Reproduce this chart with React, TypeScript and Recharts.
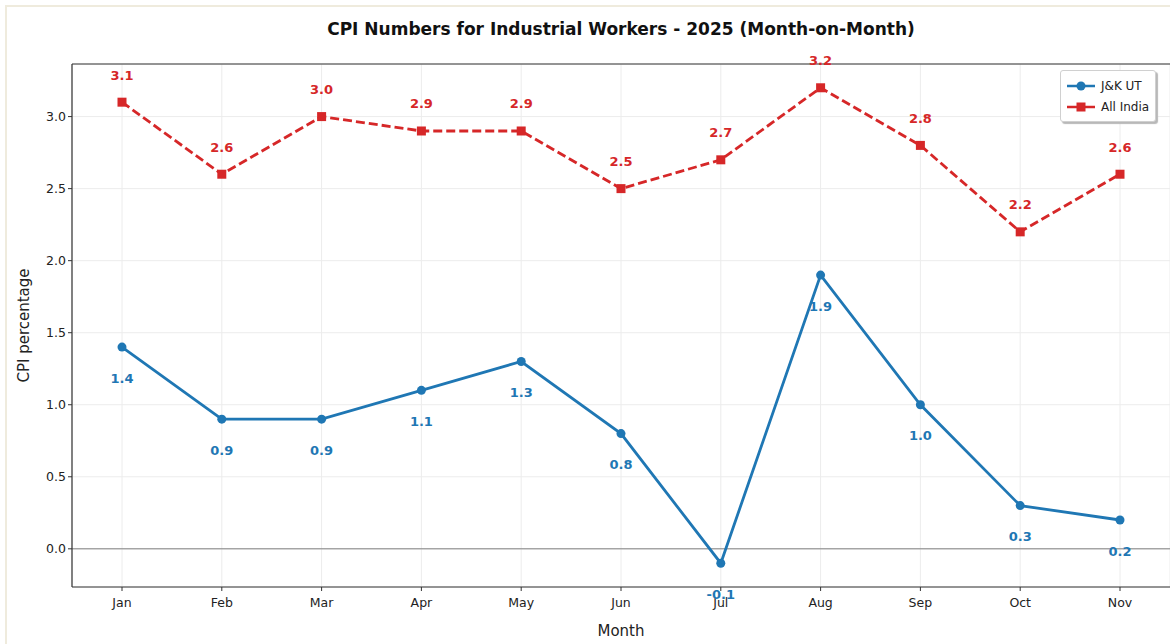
import React from 'react'
import {
  CartesianGrid,
  LabelList,
  Line,
  LineChart,
  ReferenceLine,
  XAxis,
  YAxis,
} from 'recharts'

const months = ['Jan', 'Feb', 'Mar', 'Apr', 'May', 'Jun', 'Jul', 'Aug', 'Sep', 'Oct', 'Nov']
const jkUt = [1.4, 0.9, 0.9, 1.1, 1.3, 0.8, -0.1, 1.9, 1.0, 0.3, 0.2]
const allIndia = [3.1, 2.6, 3.0, 2.9, 2.9, 2.5, 2.7, 3.2, 2.8, 2.2, 2.6]
const yTicks = [0, 0.5, 1.0, 1.5, 2.0, 2.5, 3.0]

const BLUE = '#1f77b4'
const RED = '#d62728'
const FONT = '"DejaVu Sans", sans-serif'

const data = months.map((m, i) => ({ month: m, jk: jkUt[i], india: allIndia[i] }))

const SquareDot = (props: any) => {
  const { cx, cy } = props
  if (cx == null || cy == null) return null
  return <rect x={cx - 4.5} y={cy - 4.5} width={9} height={9} fill={RED} />
}

const makeLabel = (color: string, dy: number) => (props: any) => {
  const { x, y, value } = props
  return (
    <text
      x={x}
      y={y + dy}
      textAnchor="middle"
      dominantBaseline="central"
      fill={color}
      fontFamily={FONT}
      fontWeight="bold"
      fontSize={13}
    >
      {Number(value).toFixed(1)}
    </text>
  )
}

const LegendBox = () => (
  <div
    style={{
      position: 'absolute',
      left: 1060,
      top: 70,
      background: '#fff',
      border: '1px solid #d0d0d0',
      borderRadius: 3,
      boxShadow: '2px 2px 1px #b8b8b8',
      padding: '4px 6px 4px 6px',
      fontFamily: FONT,
      fontSize: 12,
      color: '#222',
    }}
  >
    {[
      { name: 'J&K UT', color: BLUE, square: false },
      { name: 'All India', color: RED, square: true },
    ].map((e) => (
      <div key={e.name} style={{ display: 'flex', alignItems: 'center', height: 21 }}>
        <svg width={28} height={10} style={{ marginRight: 6 }}>
          <line x1={0} y1={5} x2={28} y2={5} stroke={e.color} strokeWidth={2.5} />
          {e.square ? (
            <rect x={9.5} y={0.5} width={9} height={9} fill={e.color} />
          ) : (
            <circle cx={14} cy={5} r={4.5} fill={e.color} />
          )}
        </svg>
        <span>{e.name}</span>
      </div>
    ))}
  </div>
)

export default function App() {
  return (
    <div style={{ position: 'absolute', left: 0, top: 0, width: 1170, height: 644, background: '#fff' }}>
      <div
        style={{
          position: 'absolute',
          left: 5,
          top: 5,
          width: 1170,
          height: 644,
          borderLeft: '2px solid #efebdd',
          borderTop: '2px solid #efebdd',
        }}
      />
      <div
        style={{
          position: 'absolute',
          left: 72,
          width: 1098,
          top: 19,
          textAlign: 'center',
          fontFamily: FONT,
          fontWeight: 'bold',
          fontSize: 17,
          color: '#111',
        }}
      >
        CPI Numbers for Industrial Workers - 2025 (Month-on-Month)
      </div>
      <LineChart width={1170} height={644} data={data} margin={{ top: 64, right: 0, bottom: 0, left: 0 }}>
        <CartesianGrid stroke="#ececec" strokeWidth={1} />
        <XAxis
          dataKey="month"
          height={57}
          padding={{ left: 50, right: 50 }}
          tickSize={4}
          tick={{ fontFamily: FONT, fontSize: 12.5, fill: '#222', dy: 5 }}
          axisLine={{ stroke: '#333', strokeWidth: 1.2 }}
          tickLine={{ stroke: '#333' }}
          label={{ value: 'Month', position: 'insideBottom', offset: 8, fontFamily: FONT, fontSize: 15, fill: '#222' }}
        />
        <YAxis
          width={72}
          domain={[-0.265, 3.365]}
          ticks={yTicks}
          allowDataOverflow
          tickFormatter={(v: number) => v.toFixed(1)}
          tickSize={4}
          tick={{ fontFamily: FONT, fontSize: 12.5, fill: '#222' }}
          axisLine={{ stroke: '#333', strokeWidth: 1.2 }}
          tickLine={{ stroke: '#333' }}
          label={{
            value: 'CPI percentage',
            angle: -90,
            position: 'insideLeft',
            offset: 24,
            style: { textAnchor: 'middle' },
            fontFamily: FONT,
            fontSize: 15,
            fill: '#222',
          }}
        />
        <ReferenceLine y={0} stroke="#808080" strokeWidth={1} />
        <ReferenceLine y={3.365} stroke="#333" strokeWidth={1.2} />
        <Line
          type="linear"
          dataKey="jk"
          name="J&K UT"
          stroke={BLUE}
          strokeWidth={2.8}
          dot={{ r: 4.5, fill: BLUE, stroke: BLUE, strokeWidth: 0 }}
          activeDot={false}
          isAnimationActive={false}
        >
          <LabelList dataKey="jk" content={makeLabel(BLUE, 31)} />
        </Line>
        <Line
          type="linear"
          dataKey="india"
          name="All India"
          stroke={RED}
          strokeWidth={2.8}
          strokeDasharray="9 4"
          dot={<SquareDot />}
          activeDot={false}
          isAnimationActive={false}
        >
          <LabelList dataKey="india" content={makeLabel(RED, -27)} />
        </Line>
      </LineChart>
      <LegendBox />
    </div>
  )
}
